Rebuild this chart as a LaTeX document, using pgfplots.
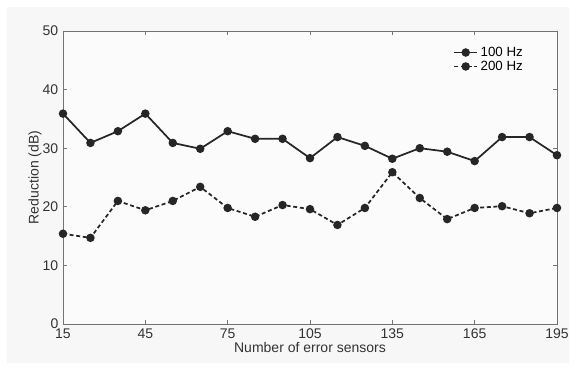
\documentclass[border=0pt]{standalone}
\usepackage{pgfplots}
\pgfplotsset{compat=1.18}
\usepackage{fontspec}
\setmainfont{Liberation Sans}
\pgfplotstableread{
x    a     b
15   35.9  15.4
25   30.9  14.7
35   32.9  21.0
45   35.9  19.4
55   30.9  21.0
65   29.9  23.4
75   32.9  19.8
85   31.6  18.3
95   31.6  20.3
105  28.3  19.6
115  31.9  16.9
125  30.4  19.8
135  28.2  25.9
145  30.0  21.5
155  29.4  17.9
165  27.8  19.8
175  31.9  20.1
185  31.9  18.9
195  28.8  19.8
}\data
\begin{document}
\begin{tikzpicture}[x=1pt,y=1pt]
\fill[white] (0,0) rectangle (432,277.5);
\fill[gray!6] (5,5) rectangle (427,272.5);
\begin{axis}[
  at={(47.25pt,34.5pt)}, anchor=origin,
  scale only axis, width=370.5pt, height=219.75pt,
  xmin=15, xmax=195, ymin=0, ymax=50,
  xtick={15,45,75,105,135,165,195},
  ytick={0,10,20,30,40,50},
  tick align=inside,
  major tick length=3pt,
  axis line style={black!55, line width=0.6pt},
  tick style={black!55, line width=0.5pt},
  axis background/.style={fill=gray!3},
  ticklabel style={font=\fontsize{10.5}{11}\selectfont, text=black!80},
  label style={font=\fontsize{10.5}{12}\selectfont, text=black!80},
  /pgf/number format/assume math mode=true,
  xlabel={Number of error sensors},
  ylabel={Reduction (dB)},
  xlabel style={yshift=4pt},
  ylabel style={yshift=-6pt},
  legend style={at={(0.945,0.965)}, anchor=north east, draw=none, fill=none,
    font=\fontsize{10}{11}\selectfont, row sep=-2pt},
  legend cell align=left,
]
\addplot[black!85, line width=1.3pt, mark=*, mark size=2.5pt, mark options={solid}] table[x=x,y=a]{\data};
\addlegendentry{100 Hz}
\addplot[black!85, line width=1.3pt, dash pattern=on 3pt off 2pt, mark=*, mark size=2.5pt, mark options={solid}] table[x=x,y=b]{\data};
\addlegendentry{200 Hz}
\end{axis}
\end{tikzpicture}
\end{document}
